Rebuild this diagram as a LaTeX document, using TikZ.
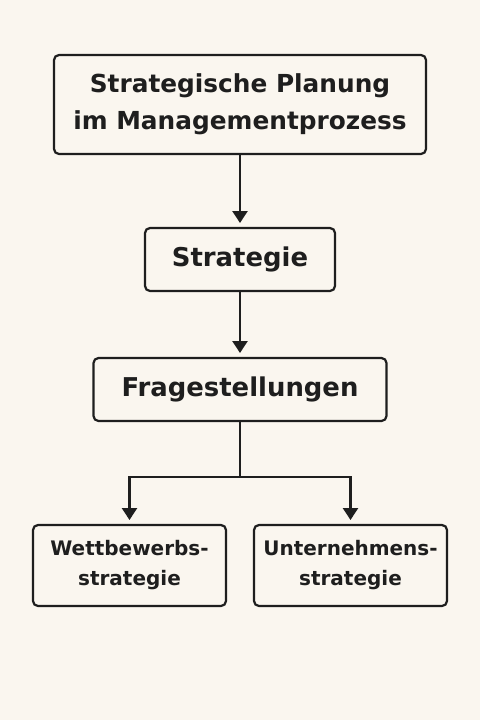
\documentclass[tikz,border=0pt]{standalone}
\usepackage{fontspec}
\setmainfont{DejaVu Sans}
\usepackage{tikz}
\usetikzlibrary{positioning,arrows.meta}
\definecolor{paper}{HTML}{FAF6EF}
\definecolor{ink}{HTML}{1E1E1E}

\begin{document}
\begin{tikzpicture}[
    box/.style={draw=ink, line width=2.2pt, rounded corners=5pt, fill=paper,
                text=ink, align=center, inner sep=0pt, outer sep=0pt},
    flow/.style={draw=ink, line width=2.4pt, shorten >=5pt,
                 -{Triangle[width=15pt,length=12pt]}}]
    \fill[paper] (0,0) rectangle (480pt,-720pt);
    \useasboundingbox (0,0) rectangle (480pt,-720pt);
    \node[box, minimum width=372pt, minimum height=99pt,
          font=\bfseries\fontsize{24.8}{37}\selectfont] (plan) at (240pt,-104.5pt)
          {Strategische Planung\\im Managementprozess};
    \node[box, minimum width=190pt, minimum height=63pt,
          font=\bfseries\fontsize{25.9}{36}\selectfont, below=74pt of plan] (strat) {Strategie};
    \node[box, minimum width=293pt, minimum height=63pt,
          font=\bfseries\fontsize{25.9}{36}\selectfont, below=67pt of strat] (frage) {Fragestellungen};
    \coordinate[below=56pt of frage] (split);
    \node[box, minimum width=193pt, minimum height=81pt,
          font=\bfseries\fontsize{20}{30}\selectfont, below=104pt of frage, xshift=-110.5pt] (wett)
          {Wettbewerbs-\\strategie};
    \node[box, minimum width=193pt, minimum height=81pt,
          font=\bfseries\fontsize{20}{30}\selectfont, below=104pt of frage, xshift=110.5pt] (unter)
          {Unternehmens-\\strategie};
    \draw[flow] (plan) -- (strat);
    \draw[flow] (strat) -- (frage);
    \draw[draw=ink, line width=2.4pt] (frage) -- (split);
    \draw[flow] (split) -| (wett);
    \draw[flow] (split) -| (unter);
  \end{tikzpicture}
\end{document}
